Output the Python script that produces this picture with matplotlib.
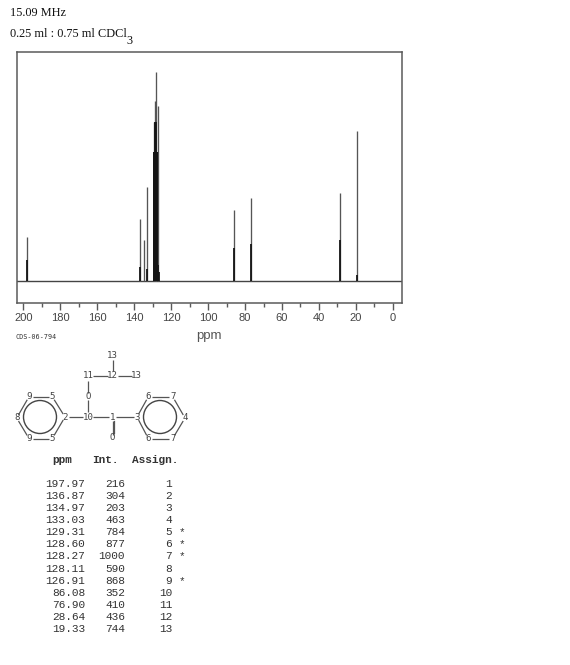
import matplotlib
matplotlib.use('Agg')
import matplotlib.pyplot as plt
from matplotlib.patches import Circle

# peak table
ppm = [197.97, 136.87, 134.97, 133.03, 129.31, 128.60, 128.27, 128.11, 126.91,
       86.08, 76.90, 28.64, 19.33]
intensity = [216, 304, 203, 463, 784, 877, 1000, 590, 868, 352, 410, 436, 744]
assign = [1, 2, 3, 4, 5, 6, 7, 8, 9, 10, 11, 12, 13]
starred = [5, 6, 7, 9]

# heights as drawn in the spectrum (they come out a bit lower than the table)
drawn_int = [210, 297, 196, 450, 760, 861, 1000, 617, 837, 340, 397, 421, 718]

# shorter lines seen beside the main peaks
side_ppm = [197.85, 136.75, 133.15, 129.5, 129.2, 128.9, 128.45, 127.85, 127.6, 127.0, 126.7,
            85.95, 76.95, 28.5, 19.45]
side_int = [100, 67, 60, 617, 617, 760, 760, 617, 617, 75, 43, 158, 175, 195, 30]

major_ticks = [200, 180, 160, 140, 120, 100, 80, 60, 40, 20, 0]
minor_ticks = [190, 170, 150, 130, 110, 90, 70, 50, 30, 10]

GRAY = '#5a5a5a'
W, H = 570, 665

fig = plt.figure(figsize=(W / 100, H / 100), dpi=100, facecolor='white')

# spectrum box
ax = fig.add_axes([17 / W, 1 - 303 / H, 385 / W, 251 / H])
ax.set_xlim(203.5, -5.0)
ax.set_ylim(-105, 1096)
ax.axhline(0, color='#444444', lw=1.0)
ax.vlines(ppm, 0, drawn_int, color='#555555', lw=0.95)
ax.vlines(side_ppm, 0, side_int, color='#151515', lw=1.3)
ax.set_xticks(major_ticks)
ax.set_xticks(minor_ticks, minor=True)
ax.set_yticks([])
ax.tick_params(axis='x', which='major', length=5, width=1, color=GRAY, labelcolor='#444444',
               labelsize=8, pad=2)
ax.tick_params(axis='x', which='minor', length=2.8, width=1, color=GRAY)
for lab in ax.get_xticklabels():
    lab.set_family('Liberation Sans')
for s in ax.spines.values():
    s.set_color(GRAY)
    s.set_linewidth(1.1)

# overlay in pixel coordinates for text and the structure
ov = fig.add_axes([0, 0, 1, 1])
ov.set_xlim(0, W)
ov.set_ylim(H, 0)
ov.axis('off')
ov.patch.set_alpha(0)

serif = dict(family='Liberation Serif', color='#111111', va='center', ha='left')
ov.text(10, 13.5, '15.09 MHz', fontsize=8.8, **serif)
ov.text(10, 34, '0.25 ml : 0.75 ml CDCl', fontsize=8.8, **serif)
ov.text(126, 41, '3', fontsize=8.8, **serif)

ov.text(208.5, 336, 'ppm', family='Liberation Sans', fontsize=9.5, color='#555555',
        ha='center', va='center', stretch='condensed')
ov.text(16, 337, 'CDS-06-794', family='DejaVu Sans Mono', fontsize=4.9, color='#333333',
        ha='left', va='center')

# structure
atoms = [
    (112.7, 355, '13'), (88, 376, '11'), (112.7, 376, '12'), (136.7, 376, '13'),
    (88, 396.7, 'O'), (88, 417, '10'), (112.7, 417, '1'), (112.7, 438, 'O'),
    (137, 417, '3'), (65, 417, '2'),
    (29, 396.7, '9'), (52.3, 396.7, '5'), (16.7, 418, '8'), (29, 438.5, '9'), (52.3, 438.5, '5'),
    (148.3, 396.7, '6'), (172.7, 396.7, '7'), (185, 418, '4'), (148.3, 438.5, '6'), (172.7, 438.5, '7'),
]
bonds = [(0, 2), (1, 2), (2, 3), (1, 4), (4, 5), (5, 6), (5, 9), (6, 8), (6, 7),
         (9, 11), (9, 14), (10, 11), (10, 12), (12, 13), (13, 14),
         (8, 15), (8, 18), (15, 16), (16, 17), (17, 19), (18, 19)]
bond_color = '#555555'
for a, b in bonds:
    xa, ya, la = atoms[a]
    xb, yb, lb = atoms[b]
    dx, dy = xb - xa, yb - ya
    d = (dx ** 2 + dy ** 2) ** 0.5
    ga = (5.0 if len(la) > 1 else 3.5) / d
    gb = (5.0 if len(lb) > 1 else 3.5) / d
    ov.plot([xa + dx * ga, xb - dx * gb], [ya + dy * ga, yb - dy * gb],
            color=bond_color, lw=0.9, solid_capstyle='butt')
# C=O double bond
ov.plot([114, 114], [421, 433], color=bond_color, lw=0.9)
for x, y, lab in atoms:
    ov.text(x, y, lab, family='DejaVu Sans Mono', fontsize=6.6, color='#444444',
            ha='center', va='center')
for cx in (40, 160):
    ov.add_patch(Circle((cx, 417), 16.5, fill=False, ec='#444444', lw=1.0))

# table
mono = dict(family='Liberation Mono', fontsize=8, color='#333333', va='center')
ov.text(62, 460, 'ppm', ha='center', fontweight='bold', **mono)
ov.text(105.5, 460, 'Int.', ha='center', fontweight='bold', **mono)
ov.text(155, 460, 'Assign.', ha='center', fontweight='bold', **mono)
for i, (p, v, n) in enumerate(zip(ppm, intensity, assign)):
    y = 484 + i * 12.08
    ov.text(85, y, f'{p:.2f}', ha='right', **mono)
    ov.text(125, y, str(v), ha='right', **mono)
    ov.text(172, y, str(n), ha='right', **mono)
    if n in starred:
        ov.text(182, y, '*', ha='center', **mono)

fig.savefig('out.png', dpi=100, facecolor='white')
